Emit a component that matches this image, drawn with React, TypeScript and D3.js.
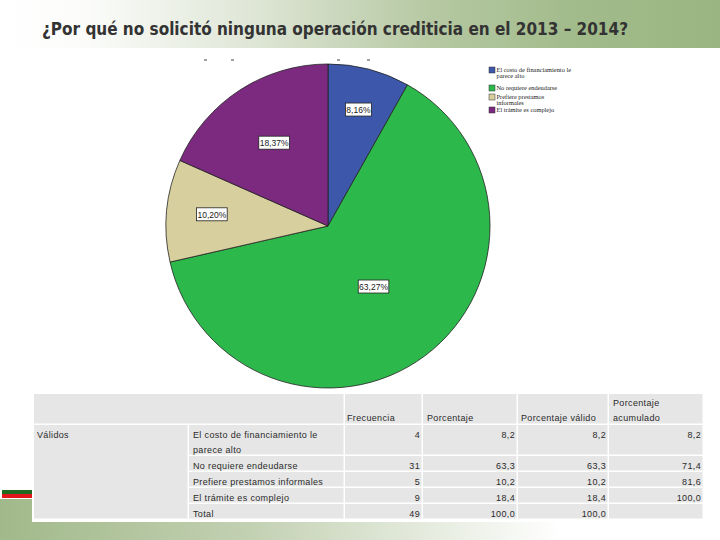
import React from 'react';
import * as d3 from 'd3';

const categories = [
  'El costo de financiamiento le parece alto',
  'No requiere endeudarse',
  'Prefiere prestamos informales',
  'El trámite es complejo',
];
const tableRowLabels = [
  ['El costo de financiamiento le', 'parece alto'],
  ['No requiere endeudarse'],
  ['Prefiere prestamos informales'],
  ['El trámite es complejo'],
  ['Total'],
];
const legendLines = [
  ['El costo de financiamiento le', 'parece alto'],
  ['No requiere endeudarse'],
  ['Prefiere prestamos', 'informales'],
  ['El trámite es complejo'],
];
const frecuencia = [4, 31, 5, 9, 49];
const porcentaje = ['8,2', '63,3', '10,2', '18,4', '100,0'];
const porcentajeValido = ['8,2', '63,3', '10,2', '18,4', '100,0'];
const porcentajeAcum = ['8,2', '71,4', '81,6', '100,0', ''];
const sliceColors = ['#3d58aa', '#2db84b', '#d8cf9e', '#7c2a80'];

const W = 720;
const H = 540;
const cx = 328;
const cy = 226;
const R = 162;
// where each percentage box sits, as a fraction of the radius
const labelFrac = [0.74, 0.47, 0.72, 0.61];

const font = "'Liberation Sans', Arial, sans-serif";

export default function App() {
  const total = d3.sum(frecuencia.slice(0, 4));
  const pie = d3.pie<number>().sort(null).value(d => d)(frecuencia.slice(0, 4));
  const arc = d3.arc<d3.PieArcDatum<number>>().innerRadius(0).outerRadius(R);
  const fmt = (v: number) => d3.format('.2f')((v / total) * 100).replace('.', ',') + '%';

  // table geometry
  const colX = [34, 189, 345, 423, 518, 609, 704];
  const rowY = [394, 425, 456, 472, 488, 504, 520];
  const gap = 1.5;
  const cellBg = '#e6e6e6';
  const txt = '#2b2b2b';

  const cells: React.ReactNode[] = [];
  const rect = (x0: number, y0: number, x1: number, y1: number, k: string) =>
    cells.push(
      <rect key={k} x={x0} y={y0} width={x1 - x0 - gap} height={y1 - y0 - gap} fill={cellBg} />
    );
  rect(colX[0], rowY[0], colX[2], rowY[1], 'h0');
  for (let c = 2; c < 6; c++) rect(colX[c], rowY[0], colX[c + 1], rowY[1], 'h' + c);
  rect(colX[0], rowY[1], colX[1], rowY[6], 'valid');
  for (let r = 1; r < 6; r++)
    for (let c = 1; c < 6; c++) rect(colX[c], rowY[r], colX[c + 1], rowY[r + 1], `c${r}-${c}`);

  const tStyle = { fontFamily: font, fontSize: 9, fill: txt, letterSpacing: 0.35 } as const;

  return (
    <div style={{ position: 'fixed', left: 0, top: 0 }}>
      <svg width={W} height={H} style={{ display: 'block', background: '#fff' }}>
        <defs>
          <linearGradient id="tg" x1="0" x2="1" y1="0" y2="0">
            <stop offset="0" stopColor="#ffffff" />
            <stop offset="0.12" stopColor="#fbfcfa" />
            <stop offset="0.35" stopColor="#dfe6d6" />
            <stop offset="0.6" stopColor="#b5c8a2" />
            <stop offset="0.8" stopColor="#a2bb8b" />
            <stop offset="1" stopColor="#9ab581" />
          </linearGradient>
          <linearGradient id="bg" x1="0" x2="1" y1="0" y2="0">
            <stop offset="0" stopColor="#a1b98a" />
            <stop offset="0.35" stopColor="#c3d1b3" />
            <stop offset="0.78" stopColor="#ffffff" />
          </linearGradient>
        </defs>

        <rect x={0} y={0} width={W} height={48} fill="url(#tg)" />
        <text
          x={42}
          y={35}
          textLength={586}
          lengthAdjust="spacingAndGlyphs"
          style={{ fontFamily: "'Liberation Sans Narrow', 'DejaVu Sans Condensed', Arial, sans-serif", fontWeight: 'bold', fontSize: 17, fill: '#333' }}
        >
          ¿Por qué no solicitó ninguna operación crediticia en el 2013 – 2014?
        </text>

        <rect x={0} y={499} width={W} height={41} fill="url(#bg)" />

        {/* stray marks above the pie */}
        {[204, 231, 337, 367].map(x => (
          <line key={x} x1={x} x2={x + 3} y1={60} y2={60} stroke="#444" strokeWidth={1} />
        ))}

        <g transform={`translate(${cx},${cy})`}>
          {pie.map((d, i) => (
            <path key={i} d={arc(d) || ''} fill={sliceColors[i]} stroke="#222" strokeWidth={0.8} />
          ))}
          {pie.map((d, i) => {
            const a = (d.startAngle + d.endAngle) / 2;
            const r = R * labelFrac[i];
            const x = Math.sin(a) * r;
            const y = -Math.cos(a) * r;
            const label = fmt(d.value);
            const w = label.length * 4.6 + 3;
            return (
              <g key={'l' + i} transform={`translate(${x},${y})`}>
                <rect x={-w / 2} y={-7} width={w} height={13} fill="#fff" stroke="#222" strokeWidth={0.8} />
                <text x={0} y={3} textAnchor="middle" style={{ fontFamily: font, fontSize: 8.5, fill: '#222' }}>
                  {label}
                </text>
              </g>
            );
          })}
        </g>

        {/* legend */}
        <g transform="translate(489,67)">
          {legendLines.map((lines, i) => {
            const y0 = [0, 18, 27, 40][i];
            return (
              <g key={i} transform={`translate(0,${y0})`}>
                <rect x={0} y={0} width={6} height={6} fill={sliceColors[i]} stroke="#333" strokeWidth={0.5} />
                {lines.map((t, j) => (
                  <text key={j} x={7.5} y={4.5 + j * 6} style={{ fontFamily: "'Liberation Serif', serif", fontSize: 6.4, fill: '#222' }}>
                    {t}
                  </text>
                ))}
              </g>
            );
          })}
        </g>

        {/* flag bar */}
        <rect x={2} y={490} width={31} height={4} fill="#1f6a1f" />
        <rect x={2} y={494} width={31} height={4} fill="#e0161a" />

        {/* table */}
        <rect x={32} y={392} width={674} height={130} fill="#fff" />
        {cells}
        <text x={347} y={421} style={tStyle}>Frecuencia</text>
        <text x={427} y={421} style={tStyle}>Porcentaje</text>
        <text x={521} y={421} style={tStyle}>Porcentaje válido</text>
        <text x={613} y={406} style={tStyle}>Porcentaje</text>
        <text x={613} y={421} style={tStyle}>acumulado</text>
        <text x={37} y={438} style={tStyle}>Válidos</text>
        {tableRowLabels.map((lines, r) =>
          lines.map((t, j) => (
            <text key={`rl${r}-${j}`} x={193} y={rowY[r + 1] + 13 + j * 15} style={tStyle}>
              {t}
            </text>
          ))
        )}
        {[frecuencia.map(String), porcentaje, porcentajeValido, porcentajeAcum].map((col, c) =>
          col.map((v, r) => (
            <text
              key={`v${c}-${r}`}
              x={colX[c + 3] - 3}
              y={rowY[r + 1] + 13}
              textAnchor="end"
              style={tStyle}
            >
              {v}
            </text>
          ))
        )}
        <title>{categories.join(', ')}</title>
      </svg>
    </div>
  );
}
